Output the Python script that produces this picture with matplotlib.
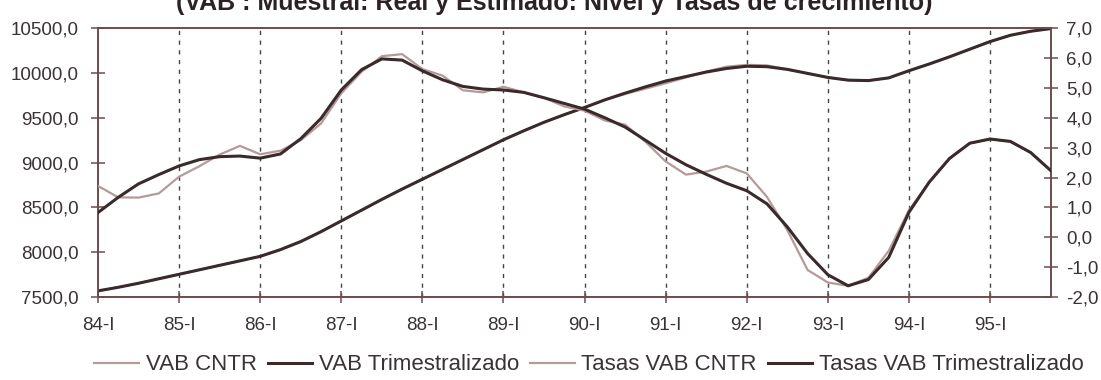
import numpy as np
import matplotlib
matplotlib.use('Agg')
import matplotlib.pyplot as plt
from matplotlib.ticker import FuncFormatter

plt.rcParams['font.family'] = ['Liberation Sans', 'DejaVu Sans']

# Quarterly data 84-I .. 95-IV
quarters = [f'{y}-{q}' for y in range(84, 96) for q in ['I', 'II', 'III', 'IV']]
year_labels = [f'{y}-I' for y in range(84, 96)]

vab_trim = [7570, 7610, 7655, 7705, 7755, 7805, 7855, 7905, 7955, 8030, 8120, 8230,
            8350, 8470, 8590, 8705, 8815, 8925, 9035, 9145, 9255, 9355, 9450, 9535,
            9615, 9700, 9775, 9845, 9910, 9960, 10010, 10050, 10075, 10070, 10040, 9995,
            9950, 9920, 9915, 9945, 10025, 10100, 10180, 10265, 10350, 10420, 10465, 10495]
vab_cntr = [7570, 7610, 7655, 7705, 7755, 7805, 7855, 7905, 7955, 8030, 8120, 8230,
            8350, 8470, 8590, 8705, 8815, 8925, 9035, 9145, 9255, 9355, 9450, 9535,
            9615, 9700, 9765, 9825, 9885, 9950, 10015, 10070, 10090, 10085, 10040, 9995,
            9950, 9920, 9915, 9945, 10025, 10100, 10180, 10265, 10350, 10420, 10465, 10495]
tasas_trim = [0.83, 1.34, 1.79, 2.10, 2.39, 2.60, 2.70, 2.72, 2.65, 2.79, 3.30, 3.98,
              4.93, 5.61, 5.97, 5.93, 5.57, 5.27, 5.05, 4.96, 4.93, 4.85, 4.67, 4.48,
              4.29, 4.00, 3.69, 3.25, 2.81, 2.43, 2.11, 1.81, 1.56, 1.12, 0.35, -0.54,
              -1.25, -1.62, -1.41, -0.67, 0.84, 1.85, 2.64, 3.15, 3.29, 3.21, 2.84, 2.23]
tasas_cntr = [1.72, 1.34, 1.33, 1.47, 2.03, 2.38, 2.77, 3.06, 2.78, 2.90, 3.25, 3.81,
              4.82, 5.54, 6.06, 6.13, 5.63, 5.41, 4.92, 4.85, 5.04, 4.85, 4.67, 4.38,
              4.24, 3.91, 3.77, 3.20, 2.54, 2.10, 2.20, 2.39, 2.14, 1.35, 0.24, -1.09,
              -1.51, -1.62, -1.35, -0.45, 0.91, 1.85, 2.64, 3.15, 3.29, 3.21, 2.84, 2.23]

light = '#b59a9a'
dark = '#3a2a2c'
frame = '#6e4b4d'
txt = '#3a3234'

x = np.arange(len(quarters))

fig = plt.figure(figsize=(11.01, 3.80), dpi=100)
ax = fig.add_axes([0.089, 0.218, 0.8655, 0.708])
ax2 = ax.twinx()

# yearly dashed guides
for xv in x[4::4]:
    ax.axvline(xv, color='#444444', lw=1.0, ls=(0, (3, 4)), zorder=1)

l1, = ax.plot(x, vab_cntr, color=light, lw=1.6, zorder=3)
l2, = ax.plot(x, vab_trim, color=dark, lw=2.2, zorder=4)
l3, = ax2.plot(x, tasas_cntr, color=light, lw=1.6, zorder=3)
l4, = ax2.plot(x, tasas_trim, color=dark, lw=2.2, zorder=4)

ax.set_xlim(0, 47)
ax.set_ylim(7500, 10500)
ax2.set_ylim(-2, 7)
ax.set_yticks(np.arange(7500, 10501, 500))
ax2.set_yticks(np.arange(-2, 7.1, 1))
comma = FuncFormatter(lambda v, p: f'{v:.1f}'.replace('.', ','))
ax.yaxis.set_major_formatter(comma)
ax2.yaxis.set_major_formatter(comma)
ax.set_xticks(x[::4])
ax.set_xticklabels(year_labels)

for a in (ax, ax2):
    for s in a.spines.values():
        s.set_color(frame)
        s.set_linewidth(1.2)
ax.tick_params(axis='y', direction='inout', length=10, width=1.1, color=frame,
               pad=9, labelsize=13.5, labelcolor=txt)
ax2.tick_params(axis='y', direction='inout', length=10, width=1.1, color=frame,
                pad=6, labelsize=13.5, labelcolor=txt)
ax.tick_params(axis='x', direction='inout', length=8, width=1.1, color=frame,
               pad=10, labelsize=13.5, labelcolor=txt)

fig.legend([l1, l2, l3, l4],
           ['VAB CNTR', 'VAB Trimestralizado', 'Tasas VAB CNTR', 'Tasas VAB Trimestralizado'],
           loc='center', bbox_to_anchor=(0.535, 0.04), ncol=4, frameon=False,
           fontsize=16, handlelength=2.0, columnspacing=0.5, handletextpad=0.3,
           labelcolor=txt)

fig.text(0.503, 1 - 10 / 380, '(VAB : Muestral: Real y Estimado: Nivel y Tasas de crecimiento)',
         ha='center', va='baseline', fontsize=18, fontweight='bold', color='#2a2224')

fig.savefig('out.png', dpi=100, facecolor='white')
